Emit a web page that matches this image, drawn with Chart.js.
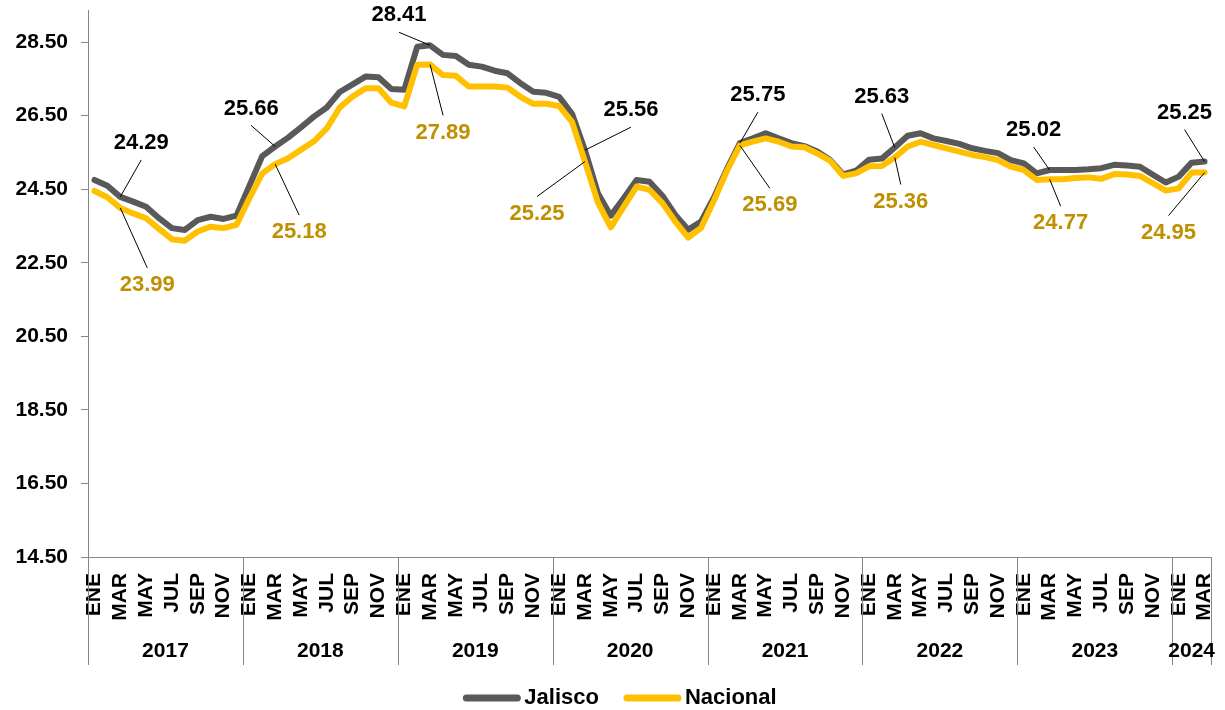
<!DOCTYPE html>
<html lang="es">
<head>
<meta charset="utf-8">
<title>Jalisco vs Nacional</title>
<script src="https://cdn.jsdelivr.net/npm/chart.js@4.4.1/dist/chart.umd.min.js"></script>
<style>
  html, body { margin: 0; padding: 0; background: #fff; }
  #wrap { width: 1225px; height: 710px; position: relative; }
</style>
</head>
<body>
<div id="wrap"><canvas id="grafica"></canvas></div>
<script>
// ─── Datos ────────────────────────────────────────────────────────────────────
const MESES          = ['ENE','FEB','MAR','ABR','MAY','JUN','JUL','AGO','SEP','OCT','NOV','DIC'];
const ANIOS          = ['2017','2018','2019','2020','2021','2022','2023','2024'];
const MESES_POR_ANIO = [12, 12, 12, 12, 12, 12, 12, 3];
const Y_TICKS        = [14.5, 16.5, 18.5, 20.5, 22.5, 24.5, 26.5, 28.5];

const JALISCO = [
  24.75, 24.59, 24.29, 24.16, 24.02, 23.71, 23.44, 23.39, 23.66, 23.75, 23.69, 23.78, // 2017
  24.59, 25.40, 25.66, 25.90, 26.18, 26.47, 26.72, 27.14, 27.35, 27.56, 27.54, 27.22, // 2018
  27.20, 28.37, 28.41, 28.15, 28.12, 27.88, 27.83, 27.72, 27.65, 27.38, 27.15, 27.12, // 2019
  27.01, 26.55, 25.56, 24.39, 23.78, 24.25, 24.75, 24.70, 24.32, 23.80, 23.40, 23.62, // 2020
  24.28, 25.05, 25.75, 25.88, 26.02, 25.88, 25.75, 25.67, 25.52, 25.29, 24.90, 25.00, // 2021
  25.30, 25.33, 25.63, 25.95, 26.02, 25.88, 25.81, 25.73, 25.61, 25.54, 25.48, 25.29, // 2022
  25.20, 24.93, 25.02, 25.02, 25.02, 25.04, 25.07, 25.16, 25.14, 25.11, 24.89, 24.68, // 2023
  24.84, 25.22, 25.25                                                                  // 2024
];

const NACIONAL = [
  24.45, 24.28, 23.99, 23.84, 23.71, 23.42, 23.14, 23.10, 23.35, 23.48, 23.44, 23.53, // 2017
  24.25, 24.93, 25.18, 25.34, 25.57, 25.80, 26.15, 26.72, 27.02, 27.24, 27.24, 26.85, // 2018
  26.75, 27.88, 27.89, 27.60, 27.58, 27.29, 27.29, 27.29, 27.26, 27.01, 26.82, 26.82, // 2019
  26.76, 26.33, 25.25, 24.14, 23.46, 24.02, 24.57, 24.48, 24.12, 23.62, 23.18, 23.45, // 2020
  24.20, 25.00, 25.69, 25.79, 25.88, 25.79, 25.66, 25.64, 25.47, 25.27, 24.86, 24.93, // 2021
  25.12, 25.13, 25.36, 25.66, 25.79, 25.70, 25.61, 25.52, 25.43, 25.37, 25.29, 25.11, // 2022
  25.02, 24.75, 24.77, 24.77, 24.80, 24.82, 24.78, 24.91, 24.90, 24.86, 24.66, 24.46, // 2023
  24.52, 24.95, 24.95                                                                  // 2024
];

// Meses con etiqueta de valor (marzo de cada año)
const IDX_ETIQUETAS = [2, 14, 26, 38, 50, 62, 74, 86];

// ─── Estilo ───────────────────────────────────────────────────────────────────
const FUENTE     = '"Liberation Sans", Arial, sans-serif';
const GRIS       = '#595959';
const AMARILLO   = '#FFC000';
const DORADO     = '#BF9000';
const EJE        = '#868686';

// desplazamiento del texto respecto al punto [dx, dy]
const POS_JAL = [[21,-54], [-24,-38], [-31,-30], [46,-40], [18,-48], [-13,-51], [-16,-40], [-20,-49]];
const POS_NAC = [[27, 77], [24, 68], [13, 68], [-48, 52], [30, 60], [6, 44], [11, 44], [-36, 60]];

// Categorías ENE 2017 … MAR 2024
const categorias = [];
ANIOS.forEach((a, k) => {
  for (let m = 0; m < MESES_POR_ANIO[k]; m++) categorias.push(MESES[m]);
});

// ─── Plugins ──────────────────────────────────────────────────────────────────
const pluginEtiquetas = {
  id: 'etiquetas',
  afterDatasetsDraw(chart) {
    const { ctx } = chart;
    const sx = chart.scales.x, sy = chart.scales.y;
    const series = [
      { datos: JALISCO,  pos: POS_JAL, color: '#000' },
      { datos: NACIONAL, pos: POS_NAC, color: DORADO },
    ];
    ctx.save();
    ctx.font = `bold 22px ${FUENTE}`;
    ctx.textAlign = 'center';
    ctx.textBaseline = 'middle';
    series.forEach(s => {
      IDX_ETIQUETAS.forEach((idx, k) => {
        const px = sx.getPixelForValue(idx);
        const py = sy.getPixelForValue(s.datos[idx]);
        const [dx, dy] = s.pos[k];
        const tx = px + dx, ty = py + dy;
        const ly = ty + (dy < 0 ? 17 : -17);
        ctx.strokeStyle = '#000';
        ctx.lineWidth = 1;
        ctx.beginPath(); ctx.moveTo(tx, ly); ctx.lineTo(px, py); ctx.stroke();
        ctx.fillStyle = s.color;
        ctx.fillText(s.datos[idx].toFixed(2), tx, ty);
      });
    });
    ctx.restore();
  }
};

const pluginAnios = {
  id: 'anios',
  afterDraw(chart) {
    const { ctx, chartArea } = chart;
    const sx = chart.scales.x;
    const paso = sx.getPixelForValue(1) - sx.getPixelForValue(0);
    const y0 = chartArea.bottom, y1 = chartArea.bottom + 108;
    ctx.save();
    ctx.strokeStyle = EJE;
    ctx.lineWidth = 1;
    ctx.fillStyle = '#000';
    ctx.font = `bold 21px ${FUENTE}`;
    ctx.textAlign = 'center';
    ctx.textBaseline = 'middle';
    const linea = xp => {
      const xr = Math.round(xp) + 0.5;
      ctx.beginPath(); ctx.moveTo(xr, y0); ctx.lineTo(xr, y1); ctx.stroke();
    };
    let inicio = 0;
    ANIOS.forEach((anio, k) => {
      const fin = inicio + MESES_POR_ANIO[k];
      const xa = sx.getPixelForValue(inicio) - paso / 2;
      const xb = sx.getPixelForValue(fin - 1) + paso / 2;
      linea(xa);
      if (k === ANIOS.length - 1) linea(xb);
      ctx.fillText(anio, (xa + xb) / 2, chartArea.bottom + 94);
      inicio = fin;
    });

    // Leyenda
    const yl = 698, caja = 57, sep = 4, entre = 25;
    const items = chart.data.datasets.map(d => ({ texto: d.label, color: d.borderColor }));
    ctx.font = `bold 22px ${FUENTE}`;
    const anchos = items.map(it => caja + sep + ctx.measureText(it.texto).width);
    const total = anchos.reduce((a, b) => a + b, 0) + entre * (items.length - 1);
    let xl = 620 - total / 2;
    ctx.textAlign = 'left';
    items.forEach((it, k) => {
      ctx.strokeStyle = it.color;
      ctx.lineWidth = 7;
      ctx.lineCap = 'round';
      ctx.beginPath(); ctx.moveTo(xl + 3, yl); ctx.lineTo(xl + caja - 3, yl); ctx.stroke();
      ctx.fillStyle = '#000';
      ctx.fillText(it.texto, xl + caja + sep, yl);
      xl += anchos[k] + entre;
    });
    ctx.restore();
  }
};

// ─── Gráfica ──────────────────────────────────────────────────────────────────
new Chart(document.getElementById('grafica'), {
  type: 'line',
  data: {
    labels: categorias,
    datasets: [
      { label: 'Jalisco',  data: JALISCO,  borderColor: GRIS,     backgroundColor: GRIS,
        borderWidth: 6, pointRadius: 0, tension: 0, order: 1,
        borderJoinStyle: 'round', borderCapStyle: 'round' },
      { label: 'Nacional', data: NACIONAL, borderColor: AMARILLO, backgroundColor: AMARILLO,
        borderWidth: 6, pointRadius: 0, tension: 0, order: 0,
        borderJoinStyle: 'round', borderCapStyle: 'round' },
    ],
  },
  options: {
    responsive: true,
    maintainAspectRatio: false,
    animation: false,
    layout: { padding: { left: 0, right: 14, top: 10, bottom: 0 } },
    plugins: {
      legend: { display: false },
      tooltip: { enabled: false },
    },
    scales: {
      x: {
        offset: true,
        grid: { display: false, drawTicks: false },
        border: { display: true, color: EJE, width: 1 },
        afterFit: s => { s.height = 153; s.paddingLeft = 0; s.paddingRight = 0; },
        ticks: {
          autoSkip: false,
          minRotation: 90,
          maxRotation: 90,
          padding: 16,
          color: '#000',
          font: { family: FUENTE, size: 21, weight: 'bold' },
          callback: function (v, i) { return i % 2 === 0 ? this.getLabelForValue(v) : ''; },
        },
      },
      y: {
        min: 14.5,
        max: 29.37,
        afterBuildTicks: s => { s.ticks = Y_TICKS.map(v => ({ value: v })); },
        afterFit: s => { s.width = 88; s.paddingTop = 0; s.paddingBottom = 0; },
        grid: { drawOnChartArea: false, drawTicks: true, tickLength: 7, color: EJE },
        border: { display: true, color: EJE, width: 1 },
        ticks: {
          padding: 13,
          color: '#000',
          font: { family: FUENTE, size: 21, weight: 'bold' },
          callback: v => Number(v).toFixed(2),
        },
      },
    },
  },
  plugins: [pluginEtiquetas, pluginAnios],
});
</script>
</body>
</html>
